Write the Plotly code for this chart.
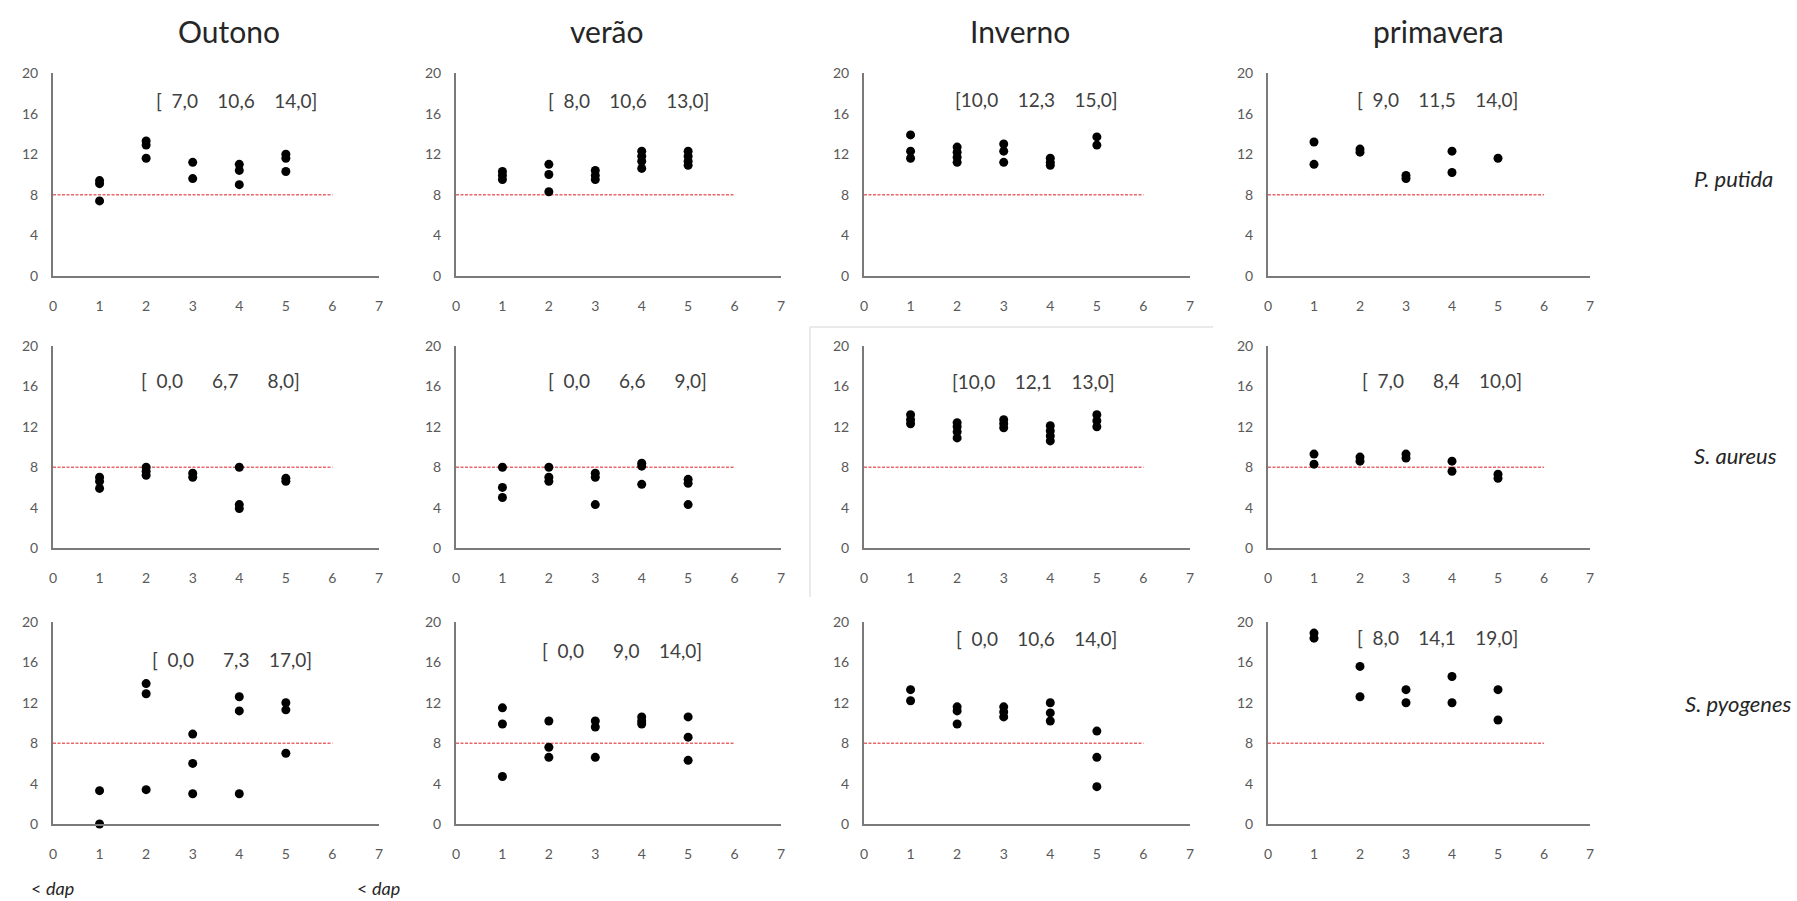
import plotly.graph_objects as go

# ---------------- data ----------------
seasons = ["Outono", "verão", "Inverno", "primavera"]
species = ["P. putida", "S. aureus", "S. pyogenes"]
days = [1, 2, 3, 4, 5]
x_ticks = [0, 1, 2, 3, 4, 5, 6, 7]
y_ticks = [0, 4, 8, 12, 16, 20]
threshold = 8
threshold_x = [0, 6]

# values per day (lists of replicate readings)
putida_outono = [[9.4, 9.1, 7.4], [13.3, 12.9, 11.6], [11.2, 9.6], [11.0, 10.4, 9.0], [12.0, 11.6, 10.3]]
putida_verao = [[10.3, 9.9, 9.5], [11.0, 10.0, 8.3], [10.4, 9.9, 9.5], [12.3, 11.8, 11.3, 10.6], [12.3, 11.8, 11.3, 10.9]]
putida_inverno = [[13.9, 12.3, 11.6], [12.7, 12.2, 11.7, 11.2], [13.0, 12.3, 11.2], [11.6, 11.2, 10.9], [13.7, 12.9]]
putida_primavera = [[13.2, 11.0], [12.5, 12.2], [9.9, 9.6], [12.3, 10.2], [11.6]]

aureus_outono = [[7.0, 6.6, 5.9], [8.0, 7.6, 7.2], [7.4, 7.0], [8.0, 4.3, 3.9], [6.9, 6.6]]
aureus_verao = [[8.0, 6.0, 5.0], [8.0, 7.0, 6.6], [7.4, 7.0, 4.3], [8.4, 8.1, 6.3], [6.8, 6.4, 4.3]]
aureus_inverno = [[13.2, 12.7, 12.3], [12.4, 12.0, 11.5, 10.9], [12.7, 12.3, 11.9], [12.1, 11.6, 11.1, 10.6], [13.2, 12.6, 12.0]]
aureus_primavera = [[9.3, 8.3], [9.0, 8.6], [9.3, 8.9], [8.6, 7.6], [7.3, 6.9]]

pyogenes_outono = [[3.3, 0.0], [13.9, 12.9, 3.4], [8.9, 6.0, 3.0], [12.6, 11.2, 3.0], [12.0, 11.3, 7.0]]
pyogenes_verao = [[11.5, 9.9, 4.7], [10.2, 7.6, 6.6], [10.2, 9.6, 6.6], [10.6, 10.2, 9.9], [10.6, 8.6, 6.3]]
pyogenes_inverno = [[13.3, 12.2], [11.6, 11.2, 9.9], [11.6, 11.1, 10.6], [12.0, 11.0, 10.2], [9.2, 6.6, 3.7]]
pyogenes_primavera = [[18.9, 18.4], [15.6, 12.6], [13.3, 12.0], [14.6, 12.0], [13.3, 10.3]]

# [min  mean  max] summaries
putida_stats = [(7.0, 10.6, 14.0), (8.0, 10.6, 13.0), (10.0, 12.3, 15.0), (9.0, 11.5, 14.0)]
aureus_stats = [(0.0, 6.7, 8.0), (0.0, 6.6, 9.0), (10.0, 12.1, 13.0), (7.0, 8.4, 10.0)]
pyogenes_stats = [(0.0, 7.3, 17.0), (0.0, 9.0, 14.0), (0.0, 10.6, 14.0), (8.0, 14.1, 19.0)]

values = [
    [putida_outono, putida_verao, putida_inverno, putida_primavera],
    [aureus_outono, aureus_verao, aureus_inverno, aureus_primavera],
    [pyogenes_outono, pyogenes_verao, pyogenes_inverno, pyogenes_primavera],
]
stats = [putida_stats, aureus_stats, pyogenes_stats]

# ---------------- layout (pixels) ----------------
W, H = 1797, 901
col_px = [(53, 379), (456, 781), (864, 1190), (1268, 1590)]
row_px = [(73, 276), (346, 548), (622, 824)]
title_px = [229, 607, 1020, 1438]
species_px = [(1692, 178), (1692, 456), (1683, 703)]
stat_pos = [
    [(3.95, 17.3), (3.72, 17.3), (3.71, 17.4), (3.68, 17.4)],
    [(3.6, 16.6), (3.69, 16.6), (3.63, 16.5), (3.79, 16.6)],
    [(3.84, 16.3), (3.57, 17.2), (3.71, 18.4), (3.68, 18.5)],
]

FONT = "Lato, 'Open Sans', sans-serif"
AXIS_COLOR = "#7a7a7a"
TICK_COLOR = "#595959"
NB = "\u00a0"


def fmt(v):
    s = f"{v:.1f}".replace(".", ",")
    return (NB + NB + s) if v < 10 else s


def stat_text(st):
    gap = NB * 4
    return "[" + fmt(st[0]) + gap + fmt(st[1]) + gap + fmt(st[2]) + "]"


fig = go.Figure()
annotations = []
layout_axes = {}

for r in range(3):
    for c in range(4):
        i = r * 4 + c + 1
        xa = "x" if i == 1 else f"x{i}"
        ya = "y" if i == 1 else f"y{i}"
        xs, ys = [], []
        for d, vals in zip(days, values[r][c]):
            xs += [d] * len(vals)
            ys += vals
        # threshold line
        fig.add_trace(go.Scatter(
            x=threshold_x, y=[threshold, threshold], mode="lines",
            line=dict(color="#e8686b", width=1.6, dash="3px,1.5px"),
            xaxis=xa, yaxis=ya, showlegend=False, hoverinfo="skip"))
        fig.add_trace(go.Scatter(
            x=xs, y=ys, mode="markers",
            marker=dict(color="black", size=9),
            xaxis=xa, yaxis=ya, showlegend=False, cliponaxis=False))
        x0, x1 = col_px[c]
        yt, yb = row_px[r]
        layout_axes["xaxis" if i == 1 else f"xaxis{i}"] = dict(
            domain=[x0 / W, x1 / W], range=[0, 7], anchor=ya,
            tickvals=x_ticks, showgrid=False, zeroline=False,
            showline=True, linecolor=AXIS_COLOR, linewidth=2,
            ticks="", ticklabelstandoff=16, automargin=False,
            tickfont=dict(family=FONT, size=14, color=TICK_COLOR))
        layout_axes["yaxis" if i == 1 else f"yaxis{i}"] = dict(
            domain=[1 - yb / H, 1 - yt / H], range=[0, 20], anchor=xa,
            tickvals=y_ticks, showgrid=False, zeroline=False,
            showline=True, linecolor=AXIS_COLOR, linewidth=2,
            ticks="", ticklabelstandoff=10, automargin=False,
            tickfont=dict(family=FONT, size=14, color=TICK_COLOR))
        sx, sy = stat_pos[r][c]
        annotations.append(dict(
            x=sx, y=sy, xref=xa, yref=ya, text=stat_text(stats[r][c]),
            showarrow=False, xanchor="center", yanchor="middle",
            font=dict(family=FONT, size=19, color="#404040")))

for c, s in enumerate(seasons):
    annotations.append(dict(
        x=title_px[c] / W, y=1 - 31 / H, xref="paper", yref="paper", text=s,
        showarrow=False, xanchor="center", yanchor="middle",
        font=dict(family=FONT, size=30, color="#262626")))

for r, sp in enumerate(species):
    px, py = species_px[r]
    annotations.append(dict(
        x=px / W, y=1 - py / H, xref="paper", yref="paper", text=f"<i>{sp}</i>",
        showarrow=False, xanchor="left", yanchor="middle",
        font=dict(family=FONT, size=22, color="#262626")))

for px in (52, 378):
    annotations.append(dict(
        x=px / W, y=1 - 888 / H, xref="paper", yref="paper", text="< <i>dap</i>",
        showarrow=False, xanchor="center", yanchor="middle",
        font=dict(family=FONT, size=18, color="#262626")))

shapes = [
    dict(type="line", xref="paper", yref="paper", x0=810 / W, x1=1213 / W,
         y0=1 - 327 / H, y1=1 - 327 / H, line=dict(color="#e3e3e3", width=1.5)),
    dict(type="line", xref="paper", yref="paper", x0=810 / W, x1=810 / W,
         y0=1 - 327 / H, y1=1 - 597 / H, line=dict(color="#e3e3e3", width=1.5)),
]

fig.update_layout(
    width=W, height=H, margin=dict(l=0, r=0, t=0, b=0),
    paper_bgcolor="white", plot_bgcolor="white",
    annotations=annotations, shapes=shapes, **layout_axes)

fig.write_html(
    "out.html",
    config={"displayModeBar": False},
    post_script="document.body.style.margin='0';document.body.style.overflow='hidden';")
